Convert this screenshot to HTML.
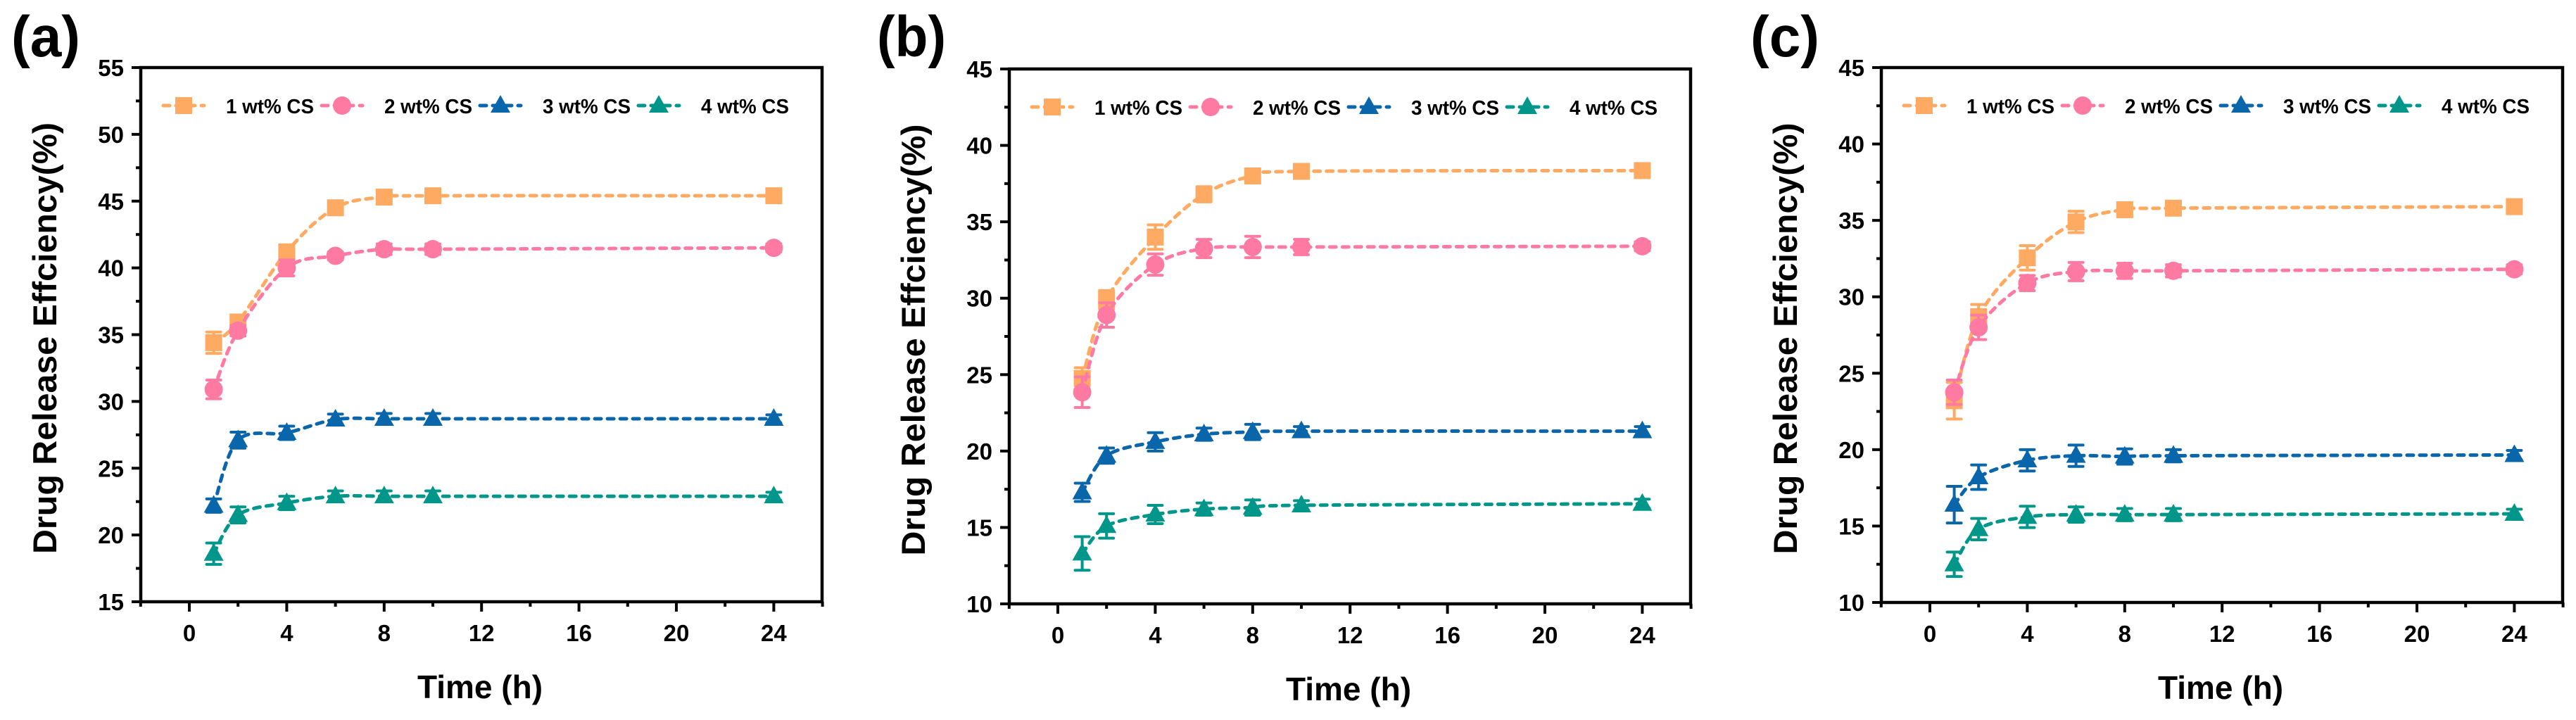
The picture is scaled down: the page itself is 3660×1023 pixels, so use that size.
<!DOCTYPE html>
<html><head><meta charset="utf-8"><style>
html,body{margin:0;padding:0;background:#fff;}
svg{display:block;font-family:"Liberation Sans",Arial,sans-serif;font-weight:bold;}
</style></head><body>
<svg id="fig" width="3660" height="1023" viewBox="0 0 3660 1023" xmlns="http://www.w3.org/2000/svg"></svg>
<script>
// ---- data ----
const times = [1, 2, 4, 6, 8, 10, 24];
const seriesNames = ["1 wt% CS", "2 wt% CS", "3 wt% CS", "4 wt% CS"];
const xTicks = [0, 4, 8, 12, 16, 20, 24];
const yTicksA = [15, 20, 25, 30, 35, 40, 45, 50, 55];
const yTicksBC = [10, 15, 20, 25, 30, 35, 40, 45];

const a1 = [34.4, 35.95, 41.2, 44.5, 45.3, 45.4, 45.4];
const a2 = [30.9, 35.3, 40.0, 40.9, 41.4, 41.4, 41.5];
const a3 = [22.2, 27.1, 27.65, 28.65, 28.7, 28.7, 28.7];
const a4 = [18.6, 21.5, 22.4, 22.9, 22.9, 22.9, 22.9];
const a1e = [0.8, 0.4, 0.5, 0.3, 0.3, 0.3, 0.3];
const a2e = [0.7, 0.4, 0.6, 0.3, 0.4, 0.4, 0.3];
const a3e = [0.5, 0.6, 0.5, 0.4, 0.4, 0.4, 0.3];
const a4e = [0.8, 0.6, 0.5, 0.4, 0.4, 0.4, 0.3];

const b1 = [24.75, 29.9, 34.0, 36.8, 38.0, 38.3, 38.35];
const b2 = [23.85, 28.9, 32.2, 33.25, 33.35, 33.35, 33.4];
const b3 = [17.3, 19.7, 20.6, 21.1, 21.25, 21.3, 21.3];
const b4 = [13.3, 15.1, 15.85, 16.2, 16.3, 16.45, 16.55];
const b1e = [0.7, 0.6, 0.8, 0.5, 0.4, 0.3, 0.3];
const b2e = [1.0, 0.8, 0.7, 0.6, 0.7, 0.5, 0.3];
const b3e = [0.6, 0.5, 0.6, 0.4, 0.5, 0.3, 0.3];
const b4e = [1.1, 0.8, 0.6, 0.4, 0.5, 0.3, 0.3];

const c1 = [23.2, 28.7, 32.55, 34.9, 35.7, 35.8, 35.9];
const c2 = [23.75, 28.0, 30.9, 31.65, 31.7, 31.7, 31.8];
const c3 = [16.4, 18.2, 19.3, 19.6, 19.55, 19.6, 19.65];
const c4 = [12.5, 14.8, 15.6, 15.75, 15.75, 15.75, 15.8];
const c1e = [1.2, 0.8, 0.8, 0.7, 0.3, 0.3, 0.3];
const c2e = [0.8, 0.8, 0.5, 0.6, 0.5, 0.4, 0.3];
const c3e = [1.2, 0.8, 0.7, 0.7, 0.5, 0.4, 0.3];
const c4e = [0.8, 0.7, 0.7, 0.5, 0.4, 0.4, 0.3];

const colors = ["#FEAA62", "#FF7AA2", "#0A66AA", "#00978A"];
const NS = "http://www.w3.org/2000/svg";
const svg = document.getElementById("fig");

function mk(tag, attrs, parent) {
  const e = document.createElementNS(NS, tag);
  for (const k in attrs) e.setAttribute(k, attrs[k]);
  (parent || svg).appendChild(e);
  return e;
}

function smoothPath(pts) {
  let d = "M" + pts[0][0] + "," + pts[0][1];
  for (let i = 0; i < pts.length - 1; i++) {
    const p0 = pts[i - 1] || pts[i], p1 = pts[i], p2 = pts[i + 1], p3 = pts[i + 2] || p2;
    const c1x = p1[0] + (p2[0] - p0[0]) / 6, c1y = p1[1] + (p2[1] - p0[1]) / 6;
    const c2x = p2[0] - (p3[0] - p1[0]) / 6, c2y = p2[1] - (p3[1] - p1[1]) / 6;
    d += " C" + c1x + "," + c1y + " " + c2x + "," + c2y + " " + p2[0] + "," + p2[1];
  }
  return d;
}

function marker(g, kind, cx, cy, color) {
  let m;
  if (kind === 0) m = mk("rect", {x: cx - 12, y: cy - 12, width: 24, height: 24, fill: color}, g);
  else if (kind === 1) m = mk("circle", {cx: cx, cy: cy, r: 13, fill: color}, g);
  else m = mk("polygon", {points: (cx) + "," + (cy - 15) + " " + (cx + 14) + "," + (cy + 10) + " " + (cx - 14) + "," + (cy + 10), fill: color}, g);
  return m;
}

function panel(off, top, bottom, label, labelX, ymin, ymax, yTicks, series, errs, key) {
  const L = off + 200, R = off + 1168;
  const xs = v => off + 269 + (v) * 34.6;
  const ys = v => bottom - (v - ymin) * (bottom - top) / (ymax - ymin);
  const g = mk("g", {});
  
  

  const lab = mk("text", {x: labelX, y: 80, "font-size": 82, textLength: 98, lengthAdjust: "spacingAndGlyphs"}, g);
  lab.textContent = label;
  
  

  // axes box
  const box = mk("rect", {x: L, y: top, width: R - L, height: bottom - top, fill: "none", stroke: "#000", "stroke-width": 4.5}, g);
  
  

  // y ticks
  const step = yTicks[1] - yTicks[0];
  for (let i = 0; i < yTicks.length; i++) {
    const v = yTicks[i], y = ys(v);
    const t = mk("line", {x1: L - 13, x2: L, y1: y, y2: y, stroke: "#000", "stroke-width": 4}, g);
    
    
    const tl = mk("text", {x: L - 24, y: y + 12, "font-size": 33, "text-anchor": "end"}, g);
    tl.textContent = v;
    
    
    if (i < yTicks.length - 1) {
      const ym = ys(v + step / 2);
      const mt = mk("line", {x1: L - 7, x2: L, y1: ym, y2: ym, stroke: "#000", "stroke-width": 4}, g);
      
      
    }
  }
  // x ticks
  for (let v = -2; v <= 26; v += 2) {
    const x = xs(v);
    const major = xTicks.indexOf(v) >= 0;
    const t = mk("line", {x1: x, x2: x, y1: bottom, y2: bottom + (major ? 14 : 7), stroke: "#000", "stroke-width": 4}, g);
    
    
  }
  for (let i = 0; i < xTicks.length; i++) {
    const tl = mk("text", {x: xs(xTicks[i]), y: bottom + 56, "font-size": 33, "text-anchor": "middle"}, g);
    tl.textContent = xTicks[i];
    
    
  }
  const xt = mk("text", {x: off + 682, y: bottom + 137, "font-size": 46, "text-anchor": "middle"}, g);
  xt.textContent = "Time (h)";
  
  
  const yc = (top + bottom) / 2 + 5;
  const yt = mk("text", {x: 0, y: 0, "font-size": 47, "text-anchor": "middle", textLength: 613, lengthAdjust: "spacingAndGlyphs", transform: "translate(" + (off + 80) + "," + yc + ") rotate(-90)"}, g);
  yt.textContent = "Drug Release Effciency(%)";
  
  

  // series
  for (let s = 0; s < series.length; s++) {
    const col = colors[s];
    const sg = mk("g", {}, g);
    
    
    const pts = times.map((t, i) => [xs(t), ys(series[s][i])]);
    const ln = mk("path", {d: smoothPath(pts), fill: "none", stroke: col, "stroke-width": 5, "stroke-dasharray": "9 9", "stroke-linecap": "round"}, sg);
    
    
    for (let i = 0; i < times.length; i++) {
      const x = xs(times[i]), v = series[s][i], e = errs[s][i];
      const y1 = ys(v + e), y2 = ys(v - e);
      const eb = mk("path", {d: "M" + x + "," + y1 + "V" + y2 + "M" + (x - 10) + "," + y1 + "H" + (x + 10) + "M" + (x - 10) + "," + y2 + "H" + (x + 10), stroke: col, "stroke-width": 4, "stroke-linecap": "round", fill: "none"}, sg);
      
      
      const m = marker(sg, s === 3 ? 2 : s, x, y1 + (ys(v) - y1), col);
      
      
    }
  }

  // legend
  const lg = mk("g", {}, g);
  
  
  const ly = top + 54;
  for (let s = 0; s < 4; s++) {
    const bx = off + 232 + s * 225;
    const eg = mk("g", {}, lg);
    
    
    mk("line", {x1: bx, x2: bx + 58, y1: ly, y2: ly, stroke: colors[s], "stroke-width": 5, "stroke-dasharray": "9 9", "stroke-linecap": "round"}, eg);
    marker(eg, s === 3 ? 2 : s, bx + 29, ly, colors[s]);
    const tx = mk("text", {x: bx + 89, y: ly + 11, "font-size": 29, textLength: 125, lengthAdjust: "spacingAndGlyphs"}, eg);
    tx.textContent = seriesNames[s];
  }
}

panel(0, 96, 855, "(a)", 16, 15, 55, yTicksA, [a1, a2, a3, a4], [a1e, a2e, a3e, a4e], "a");
panel(1234, 98, 858, "(b)", 1246, 10, 45, yTicksBC, [b1, b2, b3, b4], [b1e, b2e, b3e, b4e], "b");
panel(2473, 96, 856, "(c)", 2487, 10, 45, yTicksBC, [c1, c2, c3, c4], [c1e, c2e, c3e, c4e], "c");
</script>
</body></html>
